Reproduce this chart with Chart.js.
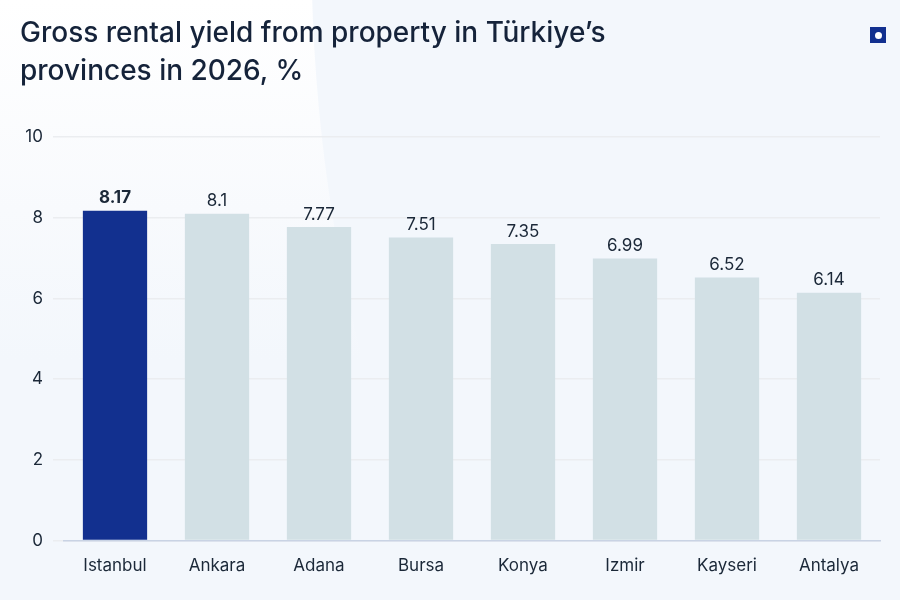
<!DOCTYPE html>
<html>
<head>
<meta charset="utf-8">
<script src="https://cdn.jsdelivr.net/npm/chart.js@4.4.1/dist/chart.umd.min.js"></script>
<style>
  html, body { margin: 0; padding: 0; }
  body {
    width: 900px; height: 600px; overflow: hidden; position: relative;
    background:
      radial-gradient(circle at 2000px -50px, #f3f7fc 1688px, rgba(243,247,252,0) 1689px),
      linear-gradient(to bottom, #ffffff 0%, #f8fafd 35%, #f3f7fc 60%);
    font-family: Inter, "Noto Sans", sans-serif;
  }
  #title {
    position: absolute; left: 20px; top: 13px;
    font-size: 28px; font-weight: 500; line-height: 38px; color: #15233a;
    letter-spacing: 0px;
  }
  #badge {
    position: absolute; left: 870px; top: 27px; width: 16px; height: 16px;
    background: #12308f;
  }
  #badge::after {
    content: ''; position: absolute; left: 4.5px; top: 4.5px; width: 7px; height: 7px;
    border-radius: 50%; background: #fff;
  }
  #wrap { position: absolute; left: 0; top: 0; width: 900px; height: 600px; }
</style>
</head>
<body>
<div id="wrap"><canvas id="chart" width="900" height="600"></canvas></div>
<div id="title">Gross rental yield from property in Türkiye’s<br>provinces in 2026, %</div>
<div id="badge"></div>
<script>
const provinces = ['Istanbul', 'Ankara', 'Adana', 'Bursa', 'Konya', 'Izmir', 'Kayseri', 'Antalya'];
const yields = [8.17, 8.1, 7.77, 7.51, 7.35, 6.99, 6.52, 6.14];
const highlight = 'Istanbul';
const yTicks = [0, 2, 4, 6, 8, 10];

const textColor = '#1b2838';

const barLabels = {
  id: 'barLabels',
  afterDatasetsDraw(chart) {
    const ctx = chart.ctx;
    const meta = chart.getDatasetMeta(0);
    ctx.save();
    ctx.textAlign = 'center';
    ctx.textBaseline = 'bottom';
    ctx.fillStyle = textColor;
    meta.data.forEach((bar, i) => {
      const bold = provinces[i] === highlight;
      ctx.font = (bold ? '700 ' : '400 ') + '17px Inter, "Noto Sans", sans-serif';
      ctx.fillText(String(yields[i]), bar.x, bar.y - 4);
    });
    ctx.restore();
  }
};

new Chart(document.getElementById('chart'), {
  type: 'bar',
  data: {
    labels: provinces,
    datasets: [{
      data: yields,
      backgroundColor: provinces.map(p => p === highlight ? '#12308f' : '#d2e0e5'),
      borderWidth: 0,
      barPercentage: 0.63,
      categoryPercentage: 1
    }]
  },
  options: {
    responsive: false,
    animation: false,
    devicePixelRatio: 1,
    layout: { padding: { top: 137, right: 20, bottom: 17, left: 0 } },
    plugins: {
      legend: { display: false },
      tooltip: { enabled: false }
    },
    scales: {
      x: {
        grid: { display: false },
        border: { display: true, color: '#c9d3e4', width: 1.5 },
        ticks: {
          color: textColor,
          font: { family: 'Inter, "Noto Sans", sans-serif', size: 17 },
          padding: 7
        }
      },
      y: {
        min: 0,
        max: 10,
        afterBuildTicks: s => { s.ticks = yTicks.map(v => ({ value: v })); },
        afterFit: s => { s.width = 64; },
        grid: { color: '#ebedf0', lineWidth: 1.5, tickLength: 11, drawTicks: true },
        border: { display: false },
        ticks: {
          color: textColor,
          font: { family: 'Inter, "Noto Sans", sans-serif', size: 17 },
          padding: 10
        }
      }
    }
  },
  plugins: [barLabels]
});
</script>
</body>
</html>
